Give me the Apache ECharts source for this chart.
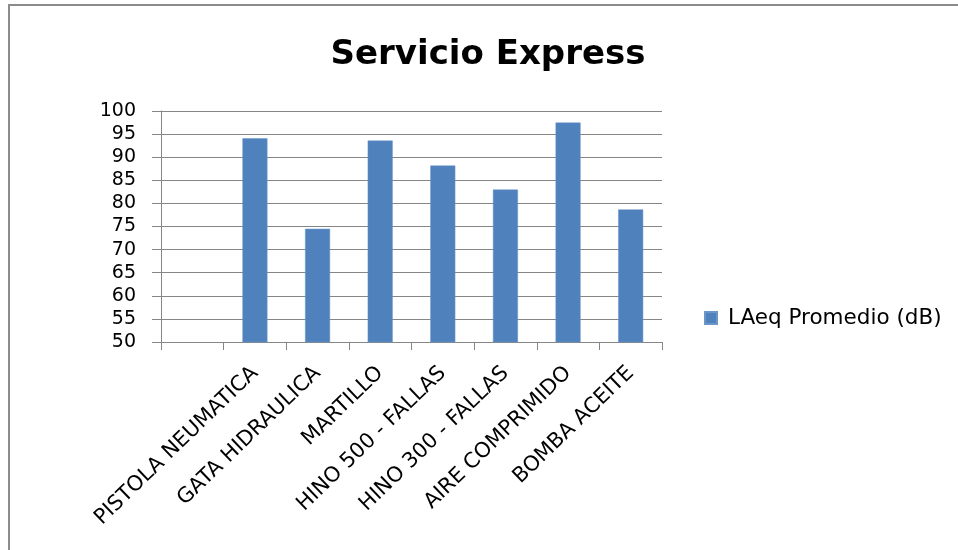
<!DOCTYPE html>
<html>
<head>
<meta charset="utf-8">
<script src="https://cdn.jsdelivr.net/npm/echarts@6/dist/echarts.min.js"></script>
<style>
  html, body { margin: 0; padding: 0; background: #fff; }
  #chart { width: 958px; height: 550px; }
</style>
</head>
<body>
<div id="chart"></div>
<script>
// Noise levels per tool / job (LAeq average, dB). First slot is left blank.
const categories = ['', 'PISTOLA NEUMATICA', 'GATA HIDRAULICA', 'MARTILLO', 'HINO 500 - FALLAS', 'HINO 300 - FALLAS', 'AIRE COMPRIMIDO', 'BOMBA ACEITE'];
const laeqValues = [null, 94.1, 74.5, 93.6, 88.2, 83.0, 97.5, 78.7];
const seriesName = 'LAeq Promedio (dB)';
const chartTitle = 'Servicio Express';
const yMin = 50, yMax = 100, yStep = 5;

const FONT = '"DejaVu Sans", "Open Sans", sans-serif';
const GRID_COLOR = '#868686';
const BAR_COLOR = '#4F81BD';

const chart = echarts.init(document.getElementById('chart'), null, { renderer: 'canvas' });

chart.setOption({
  backgroundColor: '#ffffff',
  animation: false,
  graphic: [{
    type: 'rect',
    shape: { x: 9, y: 5, width: 1000, height: 600 },
    style: { fill: 'none', stroke: '#8c8c8c', lineWidth: 2 },
    silent: true
  }],
  title: {
    text: chartTitle,
    left: 483,
    top: 33,
    textAlign: 'center',
    textStyle: { fontFamily: FONT, fontSize: 34, fontWeight: 'bold', color: '#000' }
  },
  legend: {
    left: 704,
    top: 307,
    padding: 0,
    itemWidth: 12,
    itemHeight: 12,
    itemGap: 10,
    icon: 'rect',
    textStyle: { fontFamily: FONT, fontSize: 21.5, color: '#000', padding: [0, 0, 0, 6] },
    data: [seriesName]
  },
  grid: { left: 161, right: 296, top: 111, bottom: 208, containLabel: false },
  xAxis: {
    type: 'category',
    data: categories,
    axisLine: { show: true, lineStyle: { color: GRID_COLOR, width: 1 } },
    axisTick: { show: true, length: 8, lineStyle: { color: GRID_COLOR } },
    axisLabel: {
      interval: 0,
      rotate: 44,
      margin: 28,
      fontFamily: FONT,
      fontSize: 21,
      color: '#000'
    },
    splitLine: { show: false }
  },
  yAxis: {
    type: 'value',
    min: yMin,
    max: yMax,
    interval: yStep,
    axisLine: { show: true, lineStyle: { color: GRID_COLOR, width: 1 } },
    axisTick: { show: true, length: 9, lineStyle: { color: GRID_COLOR } },
    axisLabel: { margin: 25, fontFamily: FONT, fontSize: 19, color: '#000' },
    splitLine: { show: true, lineStyle: { color: GRID_COLOR, width: 1 } }
  },
  series: [{
    name: seriesName,
    type: 'bar',
    data: laeqValues,
    barWidth: 25,
    itemStyle: { color: BAR_COLOR, borderColor: '#6b96c8', borderWidth: 0.5 }
  }]
});
</script>
</body>
</html>
